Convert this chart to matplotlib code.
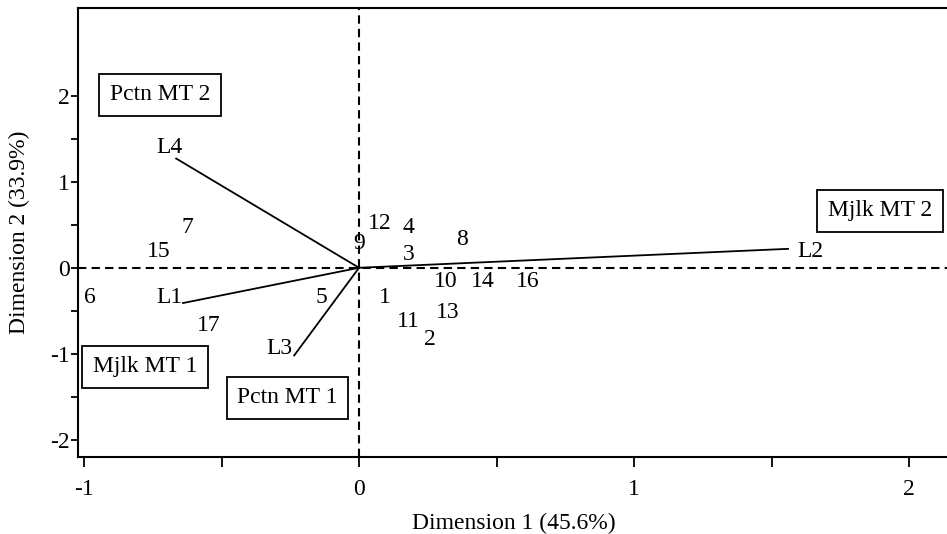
import matplotlib
matplotlib.use('Agg')
import matplotlib.pyplot as plt
import numpy as np

plt.rcParams['font.family'] = ['Liberation Serif', 'DejaVu Serif']
plt.rcParams['axes.unicode_minus'] = False

# object scores (labels only, no markers)
obj_labels = ['1', '2', '3', '4', '5', '6', '7', '8', '9', '10',
              '11', '12', '13', '14', '15', '16', '17']
obj_x = [0.095, 0.258, 0.18, 0.18, -0.135, -0.98, -0.625, 0.375, 0.0, 0.316,
         0.18, 0.076, 0.324, 0.45, -0.73, 0.615, -0.545]
obj_y = [-0.34, -0.83, 0.16, 0.47, -0.34, -0.34, 0.47, 0.33, 0.28, -0.16,
         -0.62, 0.51, -0.52, -0.16, 0.19, -0.16, -0.67]

# variable vectors
vec_labels = ['L1', 'L2', 'L3', 'L4']
vec_x = [-0.64, 1.56, -0.236, -0.665]
vec_y = [-0.41, 0.22, -1.02, 1.27]
vec_lab_x = [-0.69, 1.64, -0.29, -0.69]
vec_lab_y = [-0.34, 0.19, -0.94, 1.4]

# category boxes
box_labels = ['Pctn MT 2', 'Mjlk MT 1', 'Pctn MT 1', 'Mjlk MT 2']
box_x = [-0.724, -0.778, -0.26, 1.894]
box_y = [2.01, -1.15, -1.51, 0.66]

fs = 17

fig = plt.figure(figsize=(9.47, 5.34), dpi=100)
ax = fig.add_axes([78 / 947, (534 - 457) / 534, (950 - 78) / 947, (457 - 8) / 534])

ax.axhline(0, color='black', lw=1.5, ls=(0, (4, 2.5)))
ax.axvline(0, color='black', lw=1.5, ls=(0, (4, 2.5)))

for vx, vy in zip(vec_x, vec_y):
    ax.plot([0, vx], [0, vy], color='black', lw=1.3)
for lab, lx, ly in zip(vec_labels, vec_lab_x, vec_lab_y):
    ax.text(lx, ly, lab, fontsize=fs, ha='center', va='center')

for lab, ox, oy in zip(obj_labels, obj_x, obj_y):
    ax.text(ox, oy, lab, fontsize=fs, ha='center', va='center')

for lab, bx, by in zip(box_labels, box_x, box_y):
    ax.text(bx, by, lab, fontsize=fs, ha='center', va='center',
            bbox=dict(boxstyle='square,pad=0.45', fc='white', ec='black', lw=1.3))

ax.set_xlim(-1.022, 2.149)
ax.set_ylim(-2.20, 3.02)

ax.set_xticks([-1, -0.5, 0, 0.5, 1, 1.5, 2])
ax.set_xticklabels(['-1', '', '0', '', '1', '', '2'])
ax.set_yticks([-2, -1.5, -1, -0.5, 0, 0.5, 1, 1.5, 2])
ax.set_yticklabels(['-2', '', '-1', '', '0', '', '1', '', '2'])
ax.tick_params(axis='x', length=7, width=1.3, pad=9, labelsize=fs)
ax.tick_params(axis='y', length=5, width=1.3, pad=1, labelsize=fs)

for s in ax.spines.values():
    s.set_linewidth(1.5)

ax.set_xlabel('Dimension 1 (45.6%)', fontsize=fs, labelpad=9)
ax.set_ylabel('Dimension 2 (33.9%)', fontsize=fs, labelpad=14)

fig.savefig('out.png', dpi=100)
